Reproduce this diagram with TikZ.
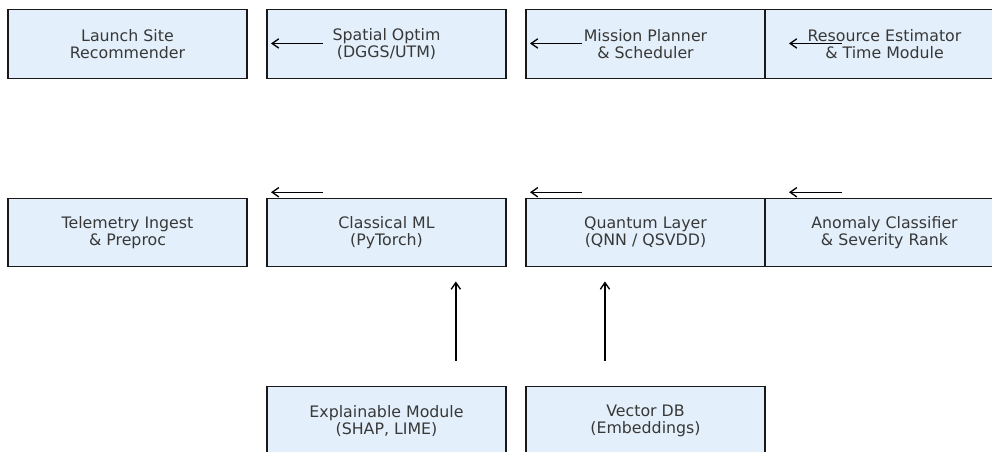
\documentclass[tikz,border=0pt]{standalone}
\usepackage{fontspec}
\setmainfont{DejaVu Sans}
\usetikzlibrary{arrows.meta,positioning}
\definecolor{boxfill}{HTML}{E3F0FB}
\definecolor{boxtext}{HTML}{383838}
\tikzset{%
  >={Straight Barb[length=5pt,width=7pt,line width=1pt]},
  % Specifications for style of nodes:
            block/.style = {rectangle, draw=black!90, line width=0.95pt,
                           minimum width=179.25pt, minimum height=51.4pt,
                           inner sep=0pt, outer sep=0pt, text centered,
                           fill=boxfill, text=boxtext, align=center,
                           font=\fontsize{11.85}{12.8}\selectfont},
           flow/.style = {->, line width=1pt, black}
}
\begin{document}
\begin{tikzpicture}[x=0.75pt, y=-0.75pt, node distance=15pt and 15pt]
  \useasboundingbox (0,0) rectangle (992,452);

  % Specification of nodes (position, etc.)
  \node (launch)    [block] at (127.5,44)           {Launch Site\\Recommender};
  \node (spatial)   [block, right=of launch]        {Spatial Optim\\(DGGS/UTM)};
  \node (mission)   [block, right=of spatial]       {Mission Planner\\\& Scheduler};
  \node (resource)  [block, right=0pt of mission]   {Resource Estimator\\\& Time Module};

  \node (telemetry) [block, below=90pt of launch]   {Telemetry Ingest\\\& Preproc};
  \node (classical) [block, right=of telemetry]     {Classical ML\\(PyTorch)};
  \node (quantum)   [block, right=of classical]     {Quantum Layer\\(QNN / QSVDD)};
  \node (anomaly)   [block, right=0pt of quantum]   {Anomaly Classifier\\\& Severity Rank};

  \node (explain)   [block, below=90pt of classical] {Explainable Module\\(SHAP, LIME)};
  \node (vectordb)  [block, below=90pt of quantum]   {Vector DB\\(Embeddings)};

  % Specification of arrows between nodes specified above
  \draw[flow] ([xshift=42pt,yshift=0.4pt]spatial.west)  -- ([xshift=3pt,yshift=0.4pt]spatial.west);
  \draw[flow] ([xshift=42pt,yshift=0.4pt]mission.west)  -- ([xshift=3pt,yshift=0.4pt]mission.west);
  \draw[flow] ([xshift=57.5pt,yshift=0.4pt]resource.west) -- ([xshift=18pt,yshift=0.4pt]resource.west);

  \draw[flow] ([xshift=42pt,yshift=4.5pt]classical.north west) -- ([xshift=3pt,yshift=4.5pt]classical.north west);
  \draw[flow] ([xshift=42pt,yshift=4.5pt]quantum.north west)   -- ([xshift=3pt,yshift=4.5pt]quantum.north west);
  \draw[flow] ([xshift=57.5pt,yshift=4.5pt]anomaly.north west) -- ([xshift=18pt,yshift=4.5pt]anomaly.north west);

  \draw[flow] ([xshift=52pt,yshift=19.5pt]explain.north)  -- ([xshift=52pt,yshift=-11pt]classical.south);
  \draw[flow] ([xshift=-30.4pt,yshift=19.5pt]vectordb.north) -- ([xshift=-30.4pt,yshift=-11pt]quantum.south);
\end{tikzpicture}
\end{document}
